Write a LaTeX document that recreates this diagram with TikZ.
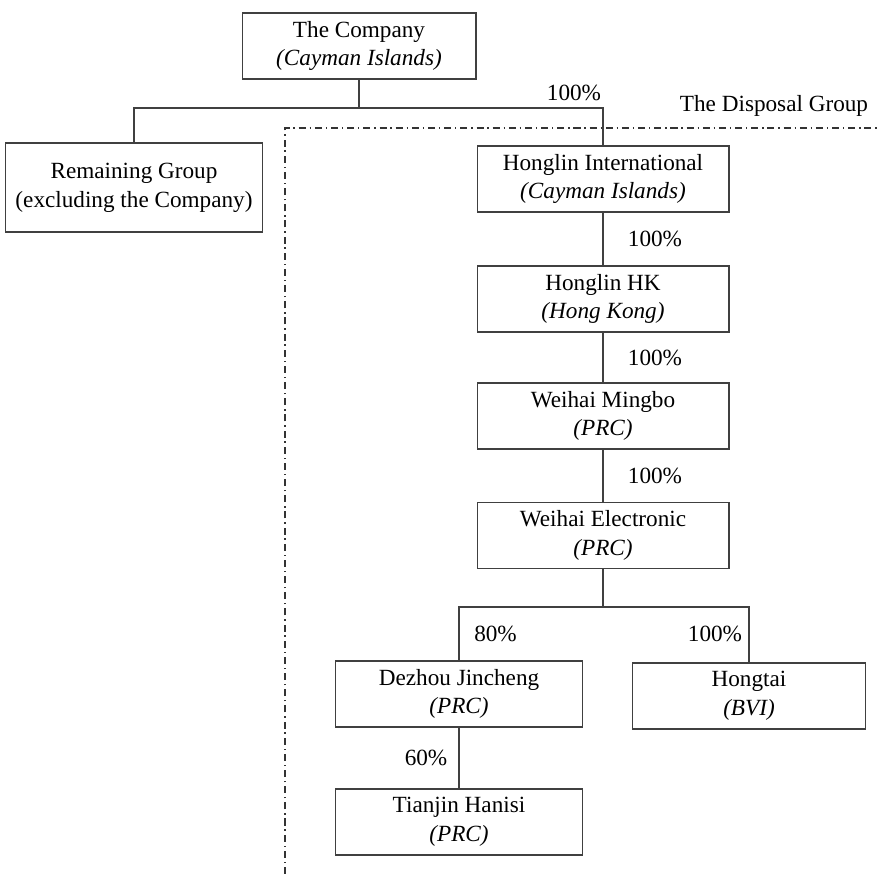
\documentclass[tikz,border=0pt]{standalone}
\usepackage{fontspec}
\setmainfont{Liberation Serif}
\begin{document}
\begin{tikzpicture}[x=0.02cm, y=-0.02cm, line width=0.6pt,
		every node/.style={font=\fontsize{13.2pt}{16.4pt}\selectfont},
		box/.style={draw=black!75, align=center, inner sep=0mm, minimum height=1.32cm},
		link/.style={draw=black!75},
		border/.style={draw=black!80, dash pattern=on 4pt off 2.2pt on 0.8pt off 2.2pt}]
		\useasboundingbox (0,0) rectangle (878,874);
		%\draw[help lines] (0,0) grid[step=50] (878,874);
		
		\node[box, minimum width=4.68cm] (co) at (359,46) {The Company\\\textit{(Cayman Islands)}};
		\node[box, minimum width=5.14cm, minimum height=1.78cm] (rem) at (134,187.5) {Remaining Group\\(excluding the Company)};
		
		\foreach \n\s\t\y in {hi/Honglin International/Cayman Islands/179, hk/Honglin HK/Hong Kong/299,
			wm/Weihai Mingbo/PRC/416, we/Weihai Electronic/PRC/535.5}
		\node[box, minimum width=5.04cm] (\n) at (603,\y) {\s\\\textit{(\t)}};
		
		\node[box, minimum width=4.94cm] (dz) at (459,694) {Dezhou Jincheng\\\textit{(PRC)}};
		\node[box, minimum width=4.66cm] (ht) at (749,696) {Hongtai\\\textit{(BVI)}};
		\node[box, minimum width=4.94cm] (tj) at (459,822) {Tianjin Hanisi\\\textit{(PRC)}};
		
		\coordinate (b1) at (359,108);
		\coordinate (b2) at (603,607);
		
		\draw[link] (co.south) -- (b1);
		\draw[link] (rem.north) |- (b1) -| (hi.north);
		
		\foreach \a\b in {hi/hk, hk/wm, wm/we}
		\draw[link] (\a) -- (\b);
		
		\draw[link] (we.south) -- (b2);
		\draw[link] (dz.north) |- (b2) -| (ht.north);
		\draw[link] (dz) -- (tj);
		
		\node (p1) at (574,93) {100\%};
		\foreach \m\y in {2/239, 3/357.5, 4/476}
		\node (p\m) at (655,\y) {100\%};
		\node (p5) at (495.5,634) {80\%};
		\node (p6) at (715,634) {100\%};
		\node (p7) at (426,758) {60\%};
		
		% disposal group
		\node (dg) at (774,106) {The Disposal Group};
		\draw[border] (285,874) -- (285,128) -- (878,128);
	\end{tikzpicture}
\end{document}
